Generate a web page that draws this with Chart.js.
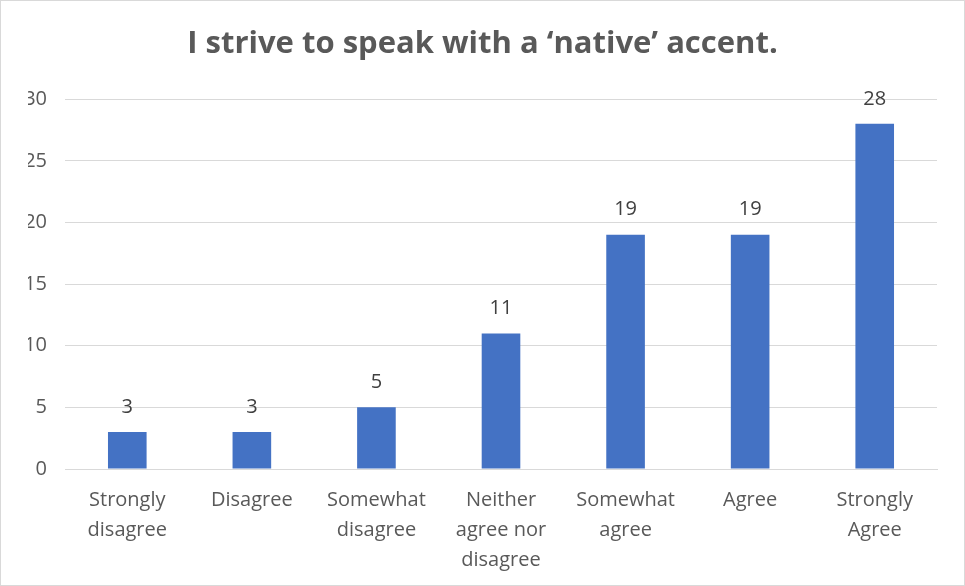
<!DOCTYPE html>
<html lang="en">

<head>
    <meta charset="UTF-8">
    <title>Accent Survey</title>
    <script src="https://cdn.jsdelivr.net/npm/chart.js"></script>
    <style>
        html, body { margin: 0; padding: 0; background: #fff; }
        .chart-box {
            width: 965px;
            height: 586px;
            box-sizing: border-box;
            border: 1px solid #d9d9d9;
            position: relative;
        }
    </style>
</head>

<body>
    <div class="chart-box">
        <canvas id="surveyChart"></canvas>
    </div>

    <script>
        const categories = [
            ["Strongly", "disagree"],
            "Disagree",
            ["Somewhat", "disagree"],
            ["Neither", "agree nor", "disagree"],
            ["Somewhat", "agree"],
            "Agree",
            ["Strongly", "Agree"]
        ];
        const responses = [3, 3, 5, 11, 19, 19, 28];
        const yTicks = [0, 5, 10, 15, 20, 25, 30];

        const fontFamily = "'Open Sans', 'Liberation Sans', sans-serif";
        const textGray = '#595959';

        // writes each bar's count just above it
        const valueLabels = {
            id: 'valueLabels',
            afterDatasetsDraw(chart) {
                const ctx = chart.ctx;
                const meta = chart.getDatasetMeta(0);
                ctx.save();
                ctx.font = `20px ${fontFamily}`;
                ctx.fillStyle = '#404040';
                ctx.textAlign = 'center';
                ctx.textBaseline = 'middle';
                meta.data.forEach((bar, i) => {
                    ctx.fillText(responses[i], bar.x, bar.y - 25);
                });
                ctx.restore();
            }
        };

        const ctx = document.getElementById('surveyChart');
        ctx.width = 963;
        ctx.height = 584;

        new Chart(ctx, {
            type: 'bar',
            data: {
                labels: categories,
                datasets: [{
                    data: responses,
                    backgroundColor: '#4472c4',
                    categoryPercentage: 1,
                    barPercentage: 0.31
                }]
            },
            options: {
                responsive: false,
                animation: false,
                layout: {
                    padding: { left: 27, right: 27, top: 0, bottom: 0 }
                },
                plugins: {
                    legend: { display: false },
                    tooltip: { enabled: false },
                    title: {
                        display: true,
                        text: 'I strive to speak with a \u2018native\u2019 accent.',
                        color: textGray,
                        font: { family: fontFamily, size: 31, weight: 'bold', lineHeight: 1.2 },
                        padding: { top: 25, bottom: 36 }
                    }
                },
                scales: {
                    x: {
                        grid: { display: false },
                        border: { color: '#d9d9d9' },
                        afterFit(scale) { scale.height = 116; },
                        ticks: {
                            color: textGray,
                            padding: 8,
                            font: { family: fontFamily, size: 20, lineHeight: 1.5 },
                            maxRotation: 0,
                            autoSkip: false
                        }
                    },
                    y: {
                        min: 0,
                        max: 30,
                        afterBuildTicks(scale) {
                            scale.ticks = yTicks.map(v => ({ value: v }));
                        },
                        afterFit(scale) { scale.width = 37; },
                        grid: { color: '#d9d9d9', drawTicks: false },
                        border: { display: false },
                        ticks: {
                            color: textGray,
                            padding: 18,
                            font: { family: fontFamily, size: 20 }
                        }
                    }
                }
            },
            plugins: [valueLabels]
        });
    </script>
</body>

</html>
